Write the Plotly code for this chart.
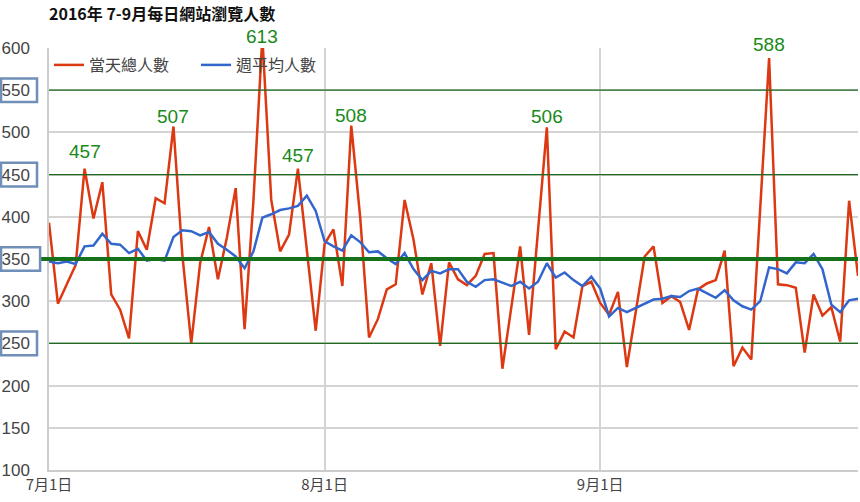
import pandas as pd
import plotly.graph_objects as go

# ---------------- data ----------------
start_date = "2016-07-01"
n_days = 92

daily_total = [
    393, 297, 320, 343, 457, 398, 441, 308, 290, 256,
    383, 361, 422, 416, 507, 355, 250, 345, 388, 326,
    375, 434, 267, 420, 613, 420, 359, 379, 457, 360,
    265, 368, 385, 318, 508, 400, 257, 279, 314, 320,
    420, 373, 308, 345, 247, 346, 326, 319, 330, 356,
    357, 220, 295, 365, 260, 385, 506, 243, 264, 257,
    318, 323, 298, 284, 311, 222, 290, 353, 365, 298,
    306, 299, 266, 314, 321, 325, 360, 223, 245, 231,
    410, 588, 320, 319, 316, 239, 308, 283, 293, 252,
    419, 330,
]

weekly_avg = [
    347, 345, 347, 344, 365, 366, 380, 368, 367, 357,
    362, 348, 350, 348, 376, 384, 383, 378, 382, 368,
    361, 353, 339, 359, 399, 403, 408, 410, 413, 425,
    407, 371, 365, 360, 378, 370, 358, 359, 351, 344,
    357, 338, 325, 336, 333, 338, 338, 323, 317, 325,
    326, 322, 318, 323, 315, 323, 345, 328, 334, 325,
    318, 329, 315, 282, 292, 287, 292, 297, 302, 303,
    306, 305, 312, 315, 309, 304, 313, 301, 294, 290,
    300, 340, 338, 333, 346, 345, 356, 338, 296, 287,
    301, 303,
]

series_names = ["當天總人數", "週平均人數"]
tick_dates = ["2016-07-01", "2016-08-01", "2016-09-01"]
tick_labels = ["7月1日", "8月1日", "9月1日"]
peak_days = [4, 14, 24, 28, 34, 56, 81]
ref_levels = [550, 450, 250]
main_level = 350
boxed_ticks = [550, 450, 350, 250]
y_min, y_max, y_step = 100, 600, 50
title_text = "2016年 7-9月每日網站瀏覽人數"

# ---------------- figure ----------------
dates = pd.date_range(start_date, periods=n_days, freq="D")

LATIN = "Liberation Sans, Arial, Noto Sans CJK TC, sans-serif"
CJK = "Noto Sans CJK TC, Liberation Sans, sans-serif"

fig = go.Figure()
fig.add_trace(go.Scatter(
    x=dates, y=daily_total, mode="lines", name=series_names[0],
    line=dict(color="#dc3912", width=2.5),
))
fig.add_trace(go.Scatter(
    x=dates, y=weekly_avg, mode="lines", name=series_names[1],
    line=dict(color="#3366cc", width=2.5),
))

shapes = []
for lvl in ref_levels:
    shapes.append(dict(type="line", xref="paper", x0=0, x1=1, yref="y",
                       y0=lvl, y1=lvl, layer="above",
                       line=dict(color="#1f6b1f", width=1.2)))
shapes.append(dict(type="line", xref="paper", x0=-0.011, x1=1, yref="y",
                   y0=main_level, y1=main_level, layer="above",
                   line=dict(color="#17701a", width=4)))
for lvl in boxed_ticks:
    x1 = -0.011 if lvl == main_level else -0.0148
    shapes.append(dict(type="rect", xref="paper", x0=-0.0593, x1=x1, yref="y",
                       y0=lvl - 14, y1=lvl + 14, layer="above",
                       line=dict(color="#6f8fb8", width=2.5),
                       fillcolor="rgba(0,0,0,0)"))

label_shift = [17, 10, 12, 13, 10, 11, 14]
annotations = []
for k, d in enumerate(peak_days):
    v = daily_total[d]
    annotations.append(dict(
        x=dates[d], y=min(v, y_max), xref="x", yref="y",
        text=str(v), showarrow=False,
        yanchor="middle", xanchor="center", yshift=label_shift[k],
        font=dict(family=LATIN, size=19, color="#188a18"),
    ))

fig.update_layout(
    width=860, height=502,
    margin=dict(l=49, r=2, t=48, b=32),
    paper_bgcolor="white", plot_bgcolor="white",
    title=dict(text="<b>" + title_text + "</b>", x=0, xref="paper", xanchor="left",
               y=1 - 14 / 502, yref="container", yanchor="middle",
               font=dict(family=CJK, size=16, color="#111")),
    showlegend=True,
    legend=dict(orientation="h", x=0, y=1, xanchor="left", yanchor="top",
                bgcolor="rgba(0,0,0,0)", font=dict(family=CJK, size=16, color="#444"),
                itemwidth=30, entrywidth=102),
    shapes=shapes,
    annotations=annotations,
    xaxis=dict(
        range=[dates[0], dates[-1]],
        tickvals=tick_dates, ticktext=tick_labels,
        showgrid=True, gridcolor="#d4d4d4", gridwidth=1.5,
        showline=True, linecolor="#cccccc", linewidth=1.5,
        ticks="", zeroline=False, automargin=False,
        tickfont=dict(family=CJK, size=15, color="#444"),
    ),
    yaxis=dict(
        range=[y_min, y_max], dtick=y_step, tick0=y_min,
        showgrid=True, gridcolor="#d4d4d4", gridwidth=1.5,
        showline=True, linecolor="#cccccc", linewidth=1.5,
        ticks="", zeroline=False, ticklabelstandoff=14, automargin=False,
        tickfont=dict(family=LATIN, size=17, color="#444"),
    ),
    hovermode=False,
)

fig.write_html("out.html",
               config={"displayModeBar": False},
               post_script="document.body.style.margin='0';document.body.style.overflow='hidden';")
